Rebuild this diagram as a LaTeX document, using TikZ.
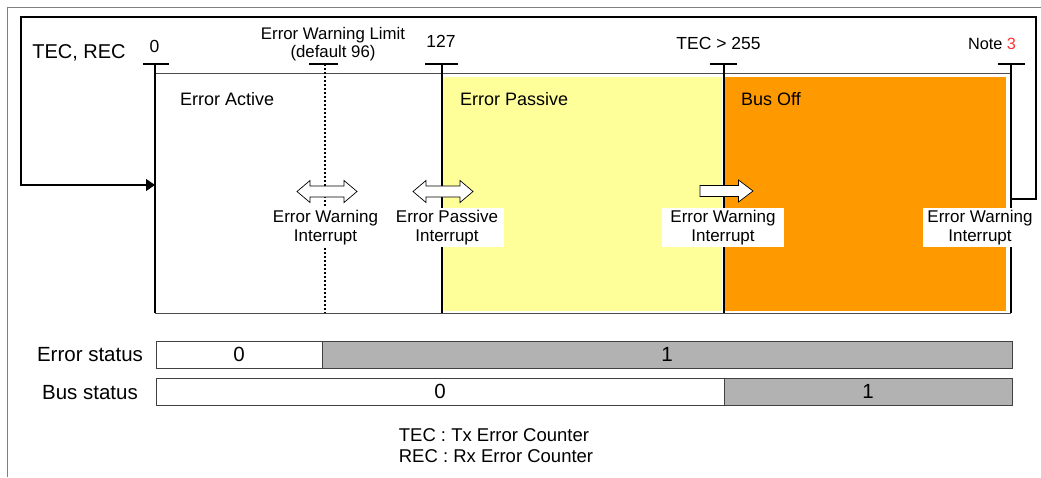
\documentclass[tikz,border=0pt]{standalone}
\usepackage{fontspec}
\setmainfont{Liberation Sans}
\usetikzlibrary{arrows.meta}
\definecolor{pyellow}{HTML}{FFFF99}
\definecolor{porange}{HTML}{FF9900}
\definecolor{sgray}{HTML}{B2B2B2}
\definecolor{framegray}{HTML}{808080}
\definecolor{notered}{HTML}{FF3333}
\begin{document}
\begin{tikzpicture}[x=1pt,y=-1pt,
  ticklbl/.style={font=\fontsize{17.5}{19}\selectfont, inner sep=0pt, align=center},
  reglbl/.style={font=\fontsize{18}{21}\selectfont, inner sep=0pt},
  intlbl/.style={font=\fontsize{17}{19}\selectfont, fill=white, inner sep=0pt, align=center, minimum height=39pt},
  bigl/.style={font=\fontsize{20.5}{23}\selectfont, inner sep=0pt},
  tickmark/.style={line width=1.2pt},
  vline/.style={line width=1.2pt},
  bar/.style={draw=black!75, line width=1pt, minimum height=27pt, inner sep=0pt, font=\fontsize{20.5}{23}\selectfont},
  blockarrow/.style={draw=black, fill=white, line width=0.7pt},
  dblarrow/.pic={\draw[blockarrow] (-30,0) -- (-17,-11) -- (-17,-5.5) -- (17,-5.5) -- (17,-11) -- (30,0) -- (17,11) -- (17,5.5) -- (-17,5.5) -- (-17,11) -- cycle;},
  rarrow/.pic={\draw[blockarrow] (-26.5,-5.5) -- (12,-5.5) -- (12,-11) -- (26.5,0) -- (12,11) -- (12,5.5) -- (-26.5,5.5) -- cycle;}
]
\useasboundingbox (0,0) rectangle (1041,477);
% outer frame
\draw[framegray, line width=1pt] (7,477) -- (7,7) -- (1041,7);
% region fills
\fill[pyellow] (443,77) rectangle (722,311);
\fill[porange] (725,77) rectangle (1006,311);
% tick coordinates
\coordinate (t0) at (155,64);
\coordinate (tw) at (325,64);
\coordinate (tp) at (442,64);
\coordinate (tb) at (724,64);
\coordinate (tn) at (1011,64);
\coordinate (b0) at (155,313);
\coordinate (bw) at (325,313);
\coordinate (bp) at (442,313);
\coordinate (bb) at (724,313);
\coordinate (bn) at (1011,313);
% box top and bottom
\draw[black!70, line width=1pt] (155,73) -- (1011,73);
\draw[black!70, line width=1pt] (b0) -- (bn);
% vertical lines
\draw[vline] (t0) -- (b0);
\draw[line width=1.2pt, dash pattern=on 2pt off 2pt] (tw) -- (bw);
\draw[vline] (tp) -- (bp);
\draw[vline] (tb) -- (bb);
\draw[vline] (tn) -- (bn);
% ticks
\draw[tickmark] (143,64) -- (169,64);
\draw[tickmark] (309,64) -- (338,64);
\draw[tickmark] (425,64) -- (458,64);
\draw[tickmark] (710,64) -- (737,64);
\draw[tickmark] (998,64) -- (1025,64);
% feedback loop
\coordinate (lp1) at (1011,199);
\coordinate (lp2) at (1036,199);
\coordinate (lp3) at (1036,17);
\coordinate (lp4) at (21,17);
\coordinate (lp5) at (21,185);
\coordinate (a0) at (155,185);
\draw[line width=1.2pt, -{Triangle[length=9pt,width=12pt]}] (lp1) -- (lp2) -- (lp3) -- (lp4) -- (lp5) -- (a0);
% tick labels
\node[bigl, font=\fontsize{20}{23}\selectfont] (tecrec) at (79,53) {TEC, REC};
\node[ticklbl] (l0) at (154.5,46) {0};
\node[ticklbl, font=\fontsize{16.8}{18}\selectfont] (lw) at (333,44) {Error Warning Limit\\(default 96)};
\node[ticklbl] (lp) at (441,41) {127};
\node[ticklbl] (lb) at (718.5,43) {TEC {\char`>} 255};
\node[ticklbl, font=\fontsize{16.3}{18}\selectfont] (ln) at (992,44) {Note \textcolor{notered}{3}};
% region labels
\node[reglbl, anchor=west] (ea) at (180,99) {Error Active};
\node[reglbl, anchor=west] (ep) at (460,99) {Error Passive};
\node[reglbl, anchor=west] (bo) at (741,99) {Bus Off};
% block arrows
\pic at (327,191.5) {dblarrow};
\pic at (443,191.5) {dblarrow};
\pic at (726.5,191) {rarrow};
% interrupt labels
\node[intlbl, minimum width=110pt] (i1) at (325.5,227.5) {Error Warning\\Interrupt};
\node[intlbl, minimum width=114pt] (i2) at (447,227.5) {Error Passive\\Interrupt};
\node[intlbl, minimum width=122pt] (i3) at (723,227.5) {Error Warning\\Interrupt};
\node[intlbl, minimum width=114pt] (i4) at (980,227.5) {Error Warning\\Interrupt};
% status bars
\node[bigl] (esl) at (90,355) {Error status};
\node[bigl] (bsl) at (90,393) {Bus status};
\node[bar, fill=white, minimum width=166pt] (es0) at (239,354.5) {0};
\node[bar, fill=sgray, minimum width=690pt] (es1) at (667,354.5) {1};
\node[bar, fill=white, minimum width=568pt] (bs0) at (440,391.5) {0};
\node[bar, fill=sgray, minimum width=288pt] (bs1) at (868,391.5) {1};
% legend
\node[font=\fontsize{18.5}{21}\selectfont, inner sep=0pt, align=left] (leg) at (496,446) {TEC : Tx Error Counter\\REC : Rx Error Counter};
\end{tikzpicture}
\end{document}
